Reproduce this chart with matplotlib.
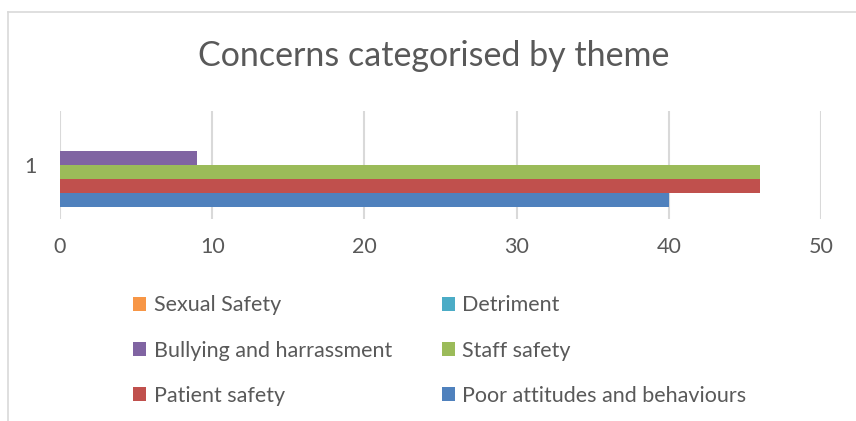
import matplotlib

matplotlib.use("Agg")
import matplotlib.pyplot as plt
from matplotlib.lines import Line2D
from matplotlib.patches import Patch

# Concern counts per theme, drawn bottom to top in this order
themes = [
    "Poor attitudes and behaviours",
    "Patient safety",
    "Staff safety",
    "Bullying and harrassment",
    "Detriment",
    "Sexual Safety",
]
counts = [40, 46, 46, 9, 0, 0]
colours = ["#4f81bd", "#c0504d", "#9bbb59", "#8064a2", "#4bacc6", "#f79646"]
category_labels = ["1"]
x_ticks = [0, 10, 20, 30, 40, 50]

TEXT = "#595959"
GRID = "#d9d9d9"

plt.rcParams["font.family"] = ["Lato", "DejaVu Sans"]

W, H = 856, 421
fig = plt.figure(figsize=(W / 100, H / 100), dpi=100)

# plot area in pixel terms
left, right, top, bottom = 60, 821, 111, 219
ax = fig.add_axes([left / W, 1 - bottom / H, (right - left) / W, (bottom - top) / H])

n = len(themes)
bar_h = 14 / 108 * 1.0  # cluster spans 84 of the 108 px category band
group_h = bar_h * n
for i, (name, val, col) in enumerate(zip(themes, counts, colours)):
    y = 1 - group_h / 2 + bar_h * (i + 0.5)
    ax.barh(y, val, height=bar_h, color=col, label=name, zorder=3)

ax.set_xlim(0, 50)
ax.set_ylim(0.5, 1.5)
ax.set_xticks(x_ticks)
ax.set_xticklabels([str(t) for t in x_ticks])
ax.set_yticks([1])
ax.set_yticklabels(category_labels)
ax.tick_params(axis="both", length=0, labelsize=15.5, colors=TEXT)
ax.tick_params(axis="x", pad=13)
ax.tick_params(axis="y", pad=17)
ax.xaxis.grid(True, color=GRID, linewidth=1.5, zorder=0)
for s in ax.spines.values():
    s.set_visible(False)

fig.text(434 / W, 1 - 56 / H, "Concerns categorised by theme", ha="center", va="center",
         fontsize=24.5, color=TEXT)

# legend, filled column-wise to read row-wise in reverse series order
order = [5, 3, 1, 4, 2, 0]
handles = [Patch(facecolor=colours[i], edgecolor="none") for i in order]
labels = [themes[i] for i in order]
leg = fig.legend(handles, labels, ncol=2, loc="upper left",
                 bbox_to_anchor=(114 / W, 1 - 276 / H), frameon=False,
                 fontsize=15.5, labelcolor=TEXT, handlelength=0.6, handleheight=0.6,
                 handletextpad=0.35, labelspacing=1.17, columnspacing=2.3)

# chart frame (top and left edges)
fig.add_artist(Line2D([8 / W, 1], [1 - 12 / H, 1 - 12 / H], color=GRID, linewidth=1.2))
fig.add_artist(Line2D([8 / W, 8 / W], [0, 1 - 12 / H], color=GRID, linewidth=1.2))

fig.savefig("out.png", dpi=100)
